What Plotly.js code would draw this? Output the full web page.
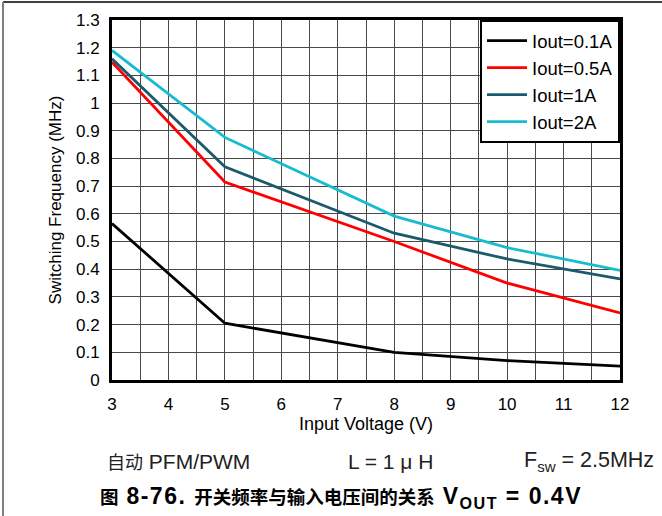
<!DOCTYPE html>
<html>
<head>
<meta charset="utf-8">
<script src="https://cdn.plot.ly/plotly-3.0.1.min.js"></script>
<style>
html,body{margin:0;padding:0;background:#fff;}
#chart{width:662px;height:516px;}
</style>
</head>
<body>
<div id="chart"></div>
<script>
// Data
var inputVoltage = [3, 5, 8, 10, 12];
var seriesNames = ["Iout=0.1A", "Iout=0.5A", "Iout=1A", "Iout=2A"];
var freq_0p1A = [0.565, 0.205, 0.100, 0.070, 0.050];
var freq_0p5A = [1.148, 0.715, 0.500, 0.350, 0.242];
var freq_1A   = [1.160, 0.770, 0.530, 0.437, 0.365];
var freq_2A   = [1.190, 0.876, 0.592, 0.478, 0.396];
var seriesColors = ["#000000", "#ff0000", "#1b5a6c", "#17bccf"];
var xTicks = [3, 4, 5, 6, 7, 8, 9, 10, 11, 12];

var FONT = "Liberation Sans, Arial, Noto Sans CJK SC, sans-serif";
var allSeries = [freq_0p1A, freq_0p5A, freq_1A, freq_2A];
var traces = allSeries.map(function (ys, i) {
  return {
    x: inputVoltage, y: ys, name: seriesNames[i], type: "scatter", mode: "lines",
    line: {color: seriesColors[i], width: 2.8}
  };
});

// pixel -> paper helpers (plot area: x 112..620, y 20..380)
function px(x) { return (x - 112) / 508; }
function py(y) { return (380 - y) / 360; }

var LAT = "font-size:23px;letter-spacing:1.5px";

var layout = {
  width: 662, height: 516,
  margin: {l: 112, r: 42, t: 20, b: 136},
  paper_bgcolor: "#ffffff", plot_bgcolor: "#ffffff",
  font: {family: FONT, color: "#000", size: 16},
  showlegend: true,
  legend: {
    x: 1, xanchor: "right", y: 1, yanchor: "top",
    bgcolor: "#ffffff", bordercolor: "#000", borderwidth: 2,
    font: {family: FONT, size: 18.5, color: "#000"},
    tracegroupgap: 0, itemwidth: 40
  },
  xaxis: {
    range: [3, 12], tickvals: xTicks, ticktext: xTicks.map(String),
    showgrid: true, gridcolor: "#4a4a4a", gridwidth: 1,
    minor: {dtick: 0.5, tick0: 3, showgrid: true, gridcolor: "#4a4a4a", gridwidth: 1},
    showline: true, linecolor: "#000", linewidth: 3, mirror: true,
    ticks: "", zeroline: false, ticklabelstandoff: 7,
    tickfont: {size: 17, family: FONT},
    title: {text: "Input Voltage (V)", font: {size: 18, family: FONT}, standoff: 3}
  },
  yaxis: {
    range: [0, 1.3], dtick: 0.1, tick0: 0,
    showgrid: true, gridcolor: "#4a4a4a", gridwidth: 1,
    showline: true, linecolor: "#000", linewidth: 3, mirror: true,
    ticks: "", zeroline: false, ticklabelstandoff: 6,
    tickfont: {size: 17, family: FONT},
    title: {text: "Switching Frequency (MHz)", font: {size: 17, family: FONT}, standoff: 11}
  },
  shapes: [
    {type: "line", xref: "paper", yref: "paper", x0: px(3), x1: px(662), y0: py(2), y1: py(2),
     line: {color: "#000", width: 1.5}},
    {type: "line", xref: "paper", yref: "paper", x0: px(3), x1: px(3), y0: py(2), y1: py(516),
     line: {color: "#808080", width: 2}}
  ],
  annotations: [
    {xref: "paper", yref: "paper", x: px(105), y: py(461), xanchor: "left", yanchor: "middle",
     showarrow: false, text: "<span style='font-size:18px'>自动</span> PFM/PWM", font: {size: 21, family: FONT, color: "#222"}},
    {xref: "paper", yref: "paper", x: px(346), y: py(461), xanchor: "left", yanchor: "middle",
     showarrow: false, text: "L = 1 μ H", font: {size: 21, family: FONT, color: "#222"}},
    {xref: "paper", yref: "paper", x: px(522), y: py(461), xanchor: "left", yanchor: "middle",
     showarrow: false, text: "F<sub>sw</sub> = 2.5MHz", font: {size: 21.5, family: FONT, color: "#222"}},
    {xref: "paper", yref: "paper", x: px(98), y: py(497), xanchor: "left", yanchor: "middle",
     showarrow: false,
     text: "<b>图<span style='" + LAT + "'> 8-76. </span>开关频率与输入电压间的关系<span style='" + LAT + "'> V<sub>OUT</sub> = 0.4V</span></b>",
     font: {size: 18.5, family: FONT, color: "#000"}}
  ]
};

Plotly.newPlot("chart", traces, layout, {staticPlot: true, displayModeBar: false});
</script>
</body>
</html>
